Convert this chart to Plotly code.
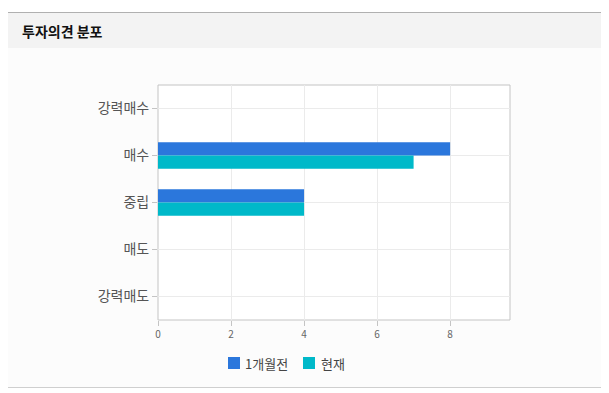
import plotly.graph_objects as go

categories = ["강력매수", "매수", "중립", "매도", "강력매도"]
month_ago = [0, 8, 4, 0, 0]
current = [0, 7, 4, 0, 0]
series_names = ["1개월전", "현재"]
series_colors = ["#2b77dc", "#00b9c9"]
x_ticks = [0, 2, 4, 6, 8]
title_text = "투자의견 분포"

# page body has an 8px margin; figure is placed at (8, 8)
OFF = 8
W, H = 609 - OFF, 393 - OFF
# plot area in reference (window) pixels
PX0, PX1, PY0, PY1 = 158, 510, 85, 320
L, R, T, B = PX0 - OFF, W - (PX1 - OFF), PY0 - OFF, H - (PY1 - OFF)
pw, ph = PX1 - PX0, PY1 - PY0

def px_x(x):
    return (x - PX0) / pw

def px_y(y):
    return (PY1 - y) / ph

font = "Noto Sans CJK KR, Noto Sans, sans-serif"

fig = go.Figure()
for name, vals, col in zip(series_names, [month_ago, current], series_colors):
    fig.add_trace(go.Bar(y=categories, x=vals, orientation="h", name=name,
                         marker=dict(color=col, line=dict(width=0))))

shapes = [
    dict(type="rect", xref="paper", yref="paper", x0=px_x(7), x1=px_x(615), y0=px_y(387), y1=px_y(48),
         fillcolor="#fcfcfc", line=dict(width=0), layer="below"),
    dict(type="rect", xref="paper", yref="paper", x0=px_x(7), x1=px_x(615), y0=px_y(48), y1=px_y(13),
         fillcolor="#f3f3f3", line=dict(width=0), layer="below"),
    dict(type="line", xref="paper", yref="paper", x0=px_x(7), x1=px_x(615), y0=px_y(12.5), y1=px_y(12.5),
         line=dict(color="#b0b0b0", width=1)),
    dict(type="line", xref="paper", yref="paper", x0=px_x(7), x1=px_x(615), y0=px_y(387.5), y1=px_y(387.5),
         line=dict(color="#cfcfcf", width=1)),
    dict(type="rect", xref="paper", yref="paper", x0=0, x1=1, y0=0, y1=1,
         fillcolor="#ffffff", line=dict(color="#c4c4c4", width=1), layer="below"),
]

annotations = [dict(text=title_text, xref="paper", yref="paper", x=px_x(20), y=px_y(31),
                    xanchor="left", yanchor="middle", showarrow=False,
                    font=dict(family=font, size=14, color="#111111", weight="bold"))]

# custom legend (symbol squares + labels)
legend_items = [(228, 243), (303, 319)]
for (sx, tx), name, col in zip(legend_items, series_names, series_colors):
    shapes.append(dict(type="rect", xref="paper", yref="paper", x0=px_x(sx), x1=px_x(sx + 12),
                       y0=px_y(369), y1=px_y(357), fillcolor=col, line=dict(width=0)))
    annotations.append(dict(text=name, xref="paper", yref="paper", x=px_x(tx), y=px_y(363),
                            xanchor="left", yanchor="middle", showarrow=False,
                            font=dict(family=font, size=13, color="#444444")))

fig.update_layout(
    width=W, height=H,
    margin=dict(l=L, r=R, t=T, b=B),
    paper_bgcolor="#ffffff",
    plot_bgcolor="rgba(0,0,0,0)",
    barmode="group",
    bargap=0.44,
    bargroupgap=0,
    font=dict(family=font, color="#555555"),
    shapes=shapes,
    annotations=annotations,
    showlegend=False,
    xaxis=dict(range=[0, 9.64], tickvals=x_ticks, showgrid=True, gridcolor="#ebebeb",
               zeroline=False, ticks="outside", ticklen=5, tickcolor="#c4c4c4",
               tickfont=dict(size=10, color="#666666"), showline=False, fixedrange=True),
    yaxis=dict(categoryorder="array", categoryarray=categories, autorange="reversed",
               showgrid=True, gridcolor="#ebebeb", ticks="outside", ticklen=5, tickcolor="#c4c4c4",
               tickfont=dict(size=14, color="#555555"), showline=False, fixedrange=True),
)

fig.write_html("out.html")
